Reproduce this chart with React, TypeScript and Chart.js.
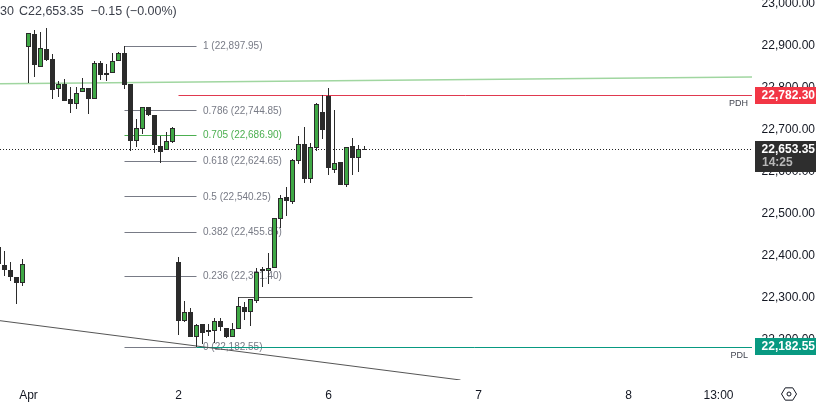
import React, { useEffect, useRef } from "react";
import { Chart, registerables } from "chart.js";

Chart.register(...registerables);

// candle index of the first entry; index 0 is the first bar of "Apr"
const firstIndex = -5;
const opens = [22419,22376.1,22364.2,22347.6,22333.3,
 22895.2,22926.1,22847.6,22890.4,22866.6,22795.2,22807.1,22771.4,22759.5,22788,22797.6,22771.4,22857.1,22833.3,22833.3,22861.8,22880.9,22807.1,22671.4,22700,22752.3,22733.3,22659.5,22650,22669,
 22383.3,22242.8,22264.2,22204.7,22235.7,22216.6,22219,22242.8,22226.1,22204.7,22223.8,22276.1,22264.2,22290.4,22366.6,22361.8,22369,22485.7,22538,22526.1,22623.8,22664.2,22580.9,22654.7,22740.4,
 22778.5,22602.3,22621.4,22566.6,22659.5,22630.9,22653.5];
const highs = [22419,22409.5,22383.3,22347.6,22390.4,
 22928.5,22935.7,22930.9,22940.4,22878.5,22814.2,22819,22800,22800,22821.4,22797.6,22861.8,22861.8,22854.7,22880.9,22883.3,22897.95,22807.1,22723.8,22752.3,22752.3,22733.3,22683.3,22692.8,22704.7,
 22395.2,22290.4,22273.7,22235.7,22235.7,22235.7,22250,22250,22226.1,22238,22299.9,22288,22295.2,22369,22371.4,22404.7,22488,22542.8,22561.9,22628.5,22683.3,22704.7,22666.6,22761.9,22780.9,
 22797.6,22745.2,22621.4,22657.1,22678.5,22661.8,22659.5];
const lows = [22376.1,22350,22338,22283.3,22326.1,
 22809.5,22823.8,22847.6,22861.8,22771.4,22776.1,22766.6,22738,22747.6,22788,22735.7,22771.4,22816.6,22814.2,22833.3,22861.8,22795.2,22647.6,22657.1,22688,22730.9,22642.8,22619,22650,22666.6,
 22209.5,22240.4,22204.7,22182.55,22188,22207.1,22190.4,22219,22202.3,22204.7,22223.8,22245.2,22230.9,22285.7,22323.8,22330.9,22369,22464.2,22492.8,22521.4,22616.6,22571.4,22571.4,22647.6,22676.1,
 22590.4,22595.2,22566.6,22561.9,22590.4,22597.6,22652.3];
const closes = [22378.5,22364.2,22347.6,22333.3,22378.5,
 22928.5,22852.3,22892.8,22864.2,22792.8,22807.1,22766.6,22759.5,22785.7,22797.6,22771.4,22857.1,22828.5,22828.5,22861.8,22880.9,22804.7,22671.4,22702.3,22752.3,22733.3,22661.8,22645.2,22671.4,22702.3,
 22242.8,22264.2,22204.7,22233.3,22214.3,22221.4,22242.8,22228.5,22204.7,22223.8,22278.5,22264.2,22295.2,22359.5,22361.8,22369,22488,22535.7,22528.5,22626.1,22664.2,22580.9,22657.1,22759.5,22697.6,
 22607.1,22619,22566.6,22657.1,22630.9,22652.3,22653.35];

// Fibonacci retracement
const fibRatios = ["1","0.786","0.705","0.618","0.5","0.382","0.236","0"];
const fibLevels = [22897.95,22744.85,22686.9,22624.65,22540.25,22455.85,22351.4,22182.55];
const fibFrom = 16;
const fibTo = 28;
const fibHighlight = "0.705";

// Other drawn levels
const pdh = 22782.3;
const pdl = 22182.55;
const lastPrice = 22653.35;
const swingLevel = 22300;
const greenTrend = [22809.5, 22825.5];
const greyTrend = [22245.2, 22104];

const yTickValues = [23000,22900,22800,22700,22600,22500,22400,22300,22200];
const xTickValues = [0,25,50,75,100,115];
const xTickLabels = ["Apr","2","6","7","8","13:00"];

const headerInterval = "30";
const headerText = "C22,653.35  −0.15 (−0.00%)";
const countdown = "14:25";

const FONT = '"Liberation Sans", sans-serif';
const fmt = (v: number) => v.toLocaleString("en-US", { minimumFractionDigits: 2, maximumFractionDigits: 2 });

const GREEN = "#3fa845";
const DARK = "#2b2b2b";

const hline = (x0: number, x1: number, y0: number, y1: number, color: string, extra: any = {}) => ({
  type: "line",
  data: [{ x: x0, y: y0 }, { x: x1, y: y1 }],
  borderColor: color,
  borderWidth: 1,
  pointRadius: 0,
  order: 10,
  ...extra,
});

const X_MIN = -28.5 / 6;
const X_MAX = (752 - 28.5) / 6;

export default function App() {
  const ref = useRef<HTMLCanvasElement>(null);
  useEffect(() => {
    document.body.style.margin = "0";
    const indexes = opens.map((_, i) => firstIndex + i);
    const isUp = opens.map((o, i) => closes[i] >= o);

    const overlay = {
      id: "overlay",
      // snap level lines and candle edges to whole device pixels, as trading charts do
      afterDatasetsUpdate(chart: any) {
        chart.data.datasets.forEach((ds: any, i: number) => {
          const els = chart.getDatasetMeta(i).data;
          if (ds.snap) {
            els.forEach((p: any) => { p.y = Math.floor(p.y) + 0.5; });
          } else if (ds.type === "bar") {
            els.forEach((b: any) => {
              const top = Math.floor(Math.min(b.y, b.base));
              let bottom = Math.floor(Math.max(b.y, b.base));
              if (bottom === top) bottom = top + 1;
              b.y = top;
              b.base = bottom;
            });
          }
        });
      },
      beforeDatasetsDraw(chart: any) {
        const { ctx, scales } = chart;
        ctx.save();
        ctx.font = `10px ${FONT}`;
        ctx.textBaseline = "middle";
        ctx.textAlign = "left";
        fibRatios.forEach((r, i) => {
          ctx.fillStyle = r === fibHighlight ? "#4caf50" : "#787b86";
          ctx.fillText(`${r} (${fmt(fibLevels[i])})`, scales.x.getPixelForValue(fibTo) + 6.5, scales.y.getPixelForValue(fibLevels[i]));
        });
        ctx.restore();
      },
      afterDraw(chart: any) {
        const { ctx, scales } = chart;
        const boxLeft = 755;
        const boxW = 61;
        ctx.save();
        ctx.textBaseline = "middle";
        ctx.textAlign = "left";
        ctx.font = `12.5px ${FONT}`;
        ctx.fillStyle = "#3b3f4a";
        ctx.fillText(headerInterval, 0, 12);
        ctx.fillText(headerText, 19, 12);

        ctx.font = `9px ${FONT}`;
        ctx.fillStyle = "#434651";
        ctx.textAlign = "right";
        ctx.fillText("PDH", 748, scales.y.getPixelForValue(pdh) + 8.5);
        ctx.fillText("PDL", 748, scales.y.getPixelForValue(pdl) + 8.5);

        const box = (v: number, color: string, h: number, top: number) => {
          ctx.fillStyle = color;
          ctx.fillRect(boxLeft, top, boxW, h);
          ctx.fillStyle = "#fff";
          ctx.font = `bold 12px ${FONT}`;
          ctx.textAlign = "right";
          ctx.fillText(fmt(v), 815, top + 8.5);
        };
        box(pdh, "#f23645", 17, 87);
        box(pdl, "#089981", 17, 338);
        box(lastPrice, "#2e2e2e", 31, 141);
        ctx.fillStyle = "#b8b8b8";
        ctx.font = `bold 12px ${FONT}`;
        ctx.textAlign = "left";
        ctx.fillText(countdown, 762, 163);

        // settings icon
        const cx = 789, cy = 394, r = 7.5;
        ctx.strokeStyle = "#131722";
        ctx.lineWidth = 1;
        ctx.beginPath();
        for (let i = 0; i < 6; i++) {
          const a = (Math.PI / 3) * i;
          const px = cx + r * Math.cos(a), py = cy + r * Math.sin(a) * 0.95;
          if (i === 0) ctx.moveTo(px, py); else ctx.lineTo(px, py);
        }
        ctx.closePath();
        ctx.stroke();
        ctx.beginPath();
        ctx.arc(cx, cy, 2, 0, Math.PI * 2);
        ctx.stroke();
        ctx.restore();
      },
    };

    const snap = { snap: true };
    const fibDatasets = fibRatios.map((r, i) =>
      hline(fibFrom, fibTo, fibLevels[i], fibLevels[i], r === fibHighlight ? "#4caf50" : "#787b86", snap)
    );

    const chart = new Chart(ref.current!, {
      type: "bar",
      data: {
        datasets: [
          hline(X_MIN, X_MAX, greenTrend[0], greenTrend[1], "#a0d6a0", { borderWidth: 1.5 }),
          hline(X_MIN, 72, greyTrend[0], greyTrend[1], "#555555"),
          hline(X_MIN, X_MAX, lastPrice, lastPrice, "#222222", { borderDash: [1, 2], ...snap }),
          hline(25, X_MAX, pdh, pdh, "#e0394f", snap),
          hline(28, X_MAX, pdl, pdl, "#089981", snap),
          hline(35, 74, swingLevel, swingLevel, "#555555", snap),
          ...fibDatasets,
          {
            type: "bar",
            data: indexes.map((x, i) => ({ x, y: [lows[i], highs[i]] })),
            backgroundColor: DARK,
            borderWidth: 0,
            barThickness: 1,
            grouped: false,
            inflateAmount: 0,
            order: 5,
          },
          {
            type: "bar",
            data: indexes.map((x, i) => ({ x, y: [opens[i], closes[i]] })),
            backgroundColor: isUp.map((u) => (u ? GREEN : DARK)),
            borderColor: DARK,
            borderWidth: 1,
            borderSkipped: false,
            barThickness: 5,
            grouped: false,
            inflateAmount: 0,
            order: 1,
          },
        ] as any,
      },
      options: {
        responsive: false,
        animation: false,
        devicePixelRatio: 1,
        layout: { padding: { left: 0, top: 0, bottom: 0, right: 1 } },
        plugins: { legend: { display: false }, tooltip: { enabled: false } },
        scales: {
          x: {
            type: "linear",
            offset: false,
            min: X_MIN,
            max: X_MAX,
            grid: { display: false, drawTicks: false },
            border: { display: false },
            afterBuildTicks(s: any) { s.ticks = xTickValues.map((value) => ({ value })); },
            afterFit(s: any) { s.height = 22; s.paddingLeft = 0; s.paddingRight = 0; },
            ticks: {
              autoSkip: false,
              maxRotation: 0,
              padding: 8,
              color: "#131722",
              font: { family: FONT, size: 12 },
              callback: (v: any) => xTickLabels[xTickValues.indexOf(v)] ?? "",
            },
          },
          y: {
            type: "linear",
            position: "right",
            min: 22104,
            max: 23008.8,
            grid: { display: false, drawTicks: false },
            border: { display: false },
            afterBuildTicks(s: any) { s.ticks = yTickValues.map((value) => ({ value })); },
            afterFit(s: any) { s.width = 63; s.paddingTop = 0; s.paddingBottom = 0; },
            ticks: {
              autoSkip: false,
              crossAlign: "far",
              color: "#131722",
              font: { family: FONT, size: 12 },
              callback: (v: any) => fmt(Number(v)),
            },
          },
        },
      } as any,
      plugins: [overlay],
    });
    return () => chart.destroy();
  }, []);
  return <canvas ref={ref} width={816} height={402} style={{ display: "block" }} />;
}
